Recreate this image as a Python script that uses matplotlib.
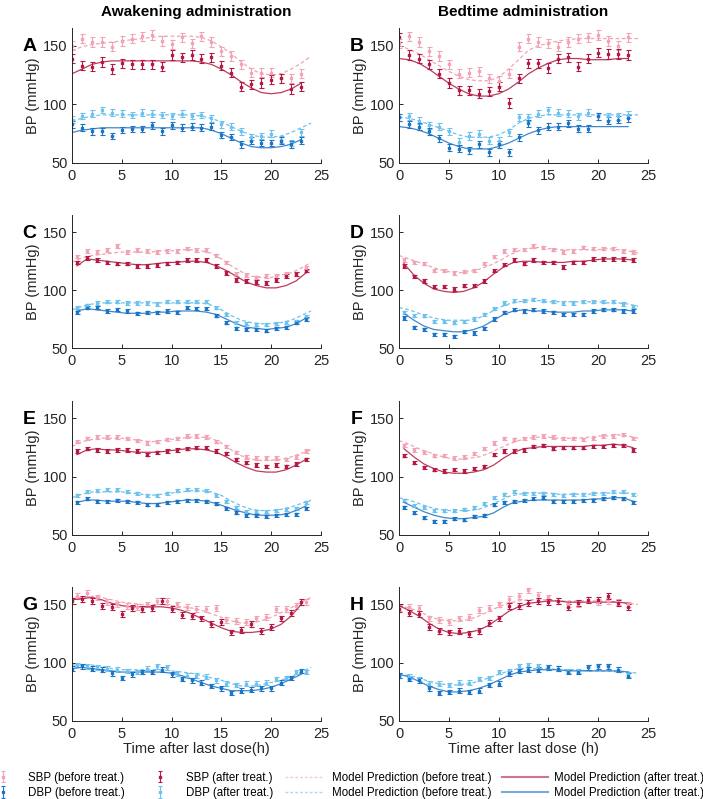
import matplotlib
matplotlib.use("Agg")
import matplotlib.pyplot as plt
from matplotlib.lines import Line2D

plt.rcParams['font.family'] = ['Liberation Sans', 'DejaVu Sans']

# colours
col_sbp_after = '#B31942'
col_sbp_before = '#F2A3B4'
col_dbp_after = '#1C74C6'
col_dbp_before = '#6DC2EE'

hours = list(range(24))
half_hours = [h + 0.5 for h in range(24)]
model_t = list(range(25))

# ---------------- panel A (awakening, hourly) ----------------
a_sbp_before = [150, 156, 153, 153, 149, 154, 156, 158, 159, 154, 151, 157, 152, 158, 153, 145, 141, 134, 127, 127, 127, 122, 122, 126]
a_sbp_after = [139, 133, 132, 136, 130, 135, 134, 134, 134, 132, 142, 140, 142, 139, 140, 133, 127, 115, 117, 118, 121, 122, 113, 115]
a_dbp_before = [87, 90, 92, 95, 93, 92, 91, 93, 92, 91, 90, 92, 90, 91, 88, 83, 81, 77, 72, 73, 75, 70, 67, 76]
a_dbp_after = [83, 80, 77, 77, 73, 78, 79, 79, 82, 77, 82, 80, 81, 80, 81, 74, 72, 66, 69, 67, 67, 69, 66, 69]
a_model_sbp_before = [146, 149, 151, 152, 153, 154, 155, 156, 157, 158, 158, 158, 158, 157, 154, 149, 143, 136, 130, 126, 125, 126, 130, 135, 141]
a_model_sbp_after = [126, 130, 134, 136, 137, 137, 137, 137, 137, 137, 137, 137, 137, 136, 134, 130, 125, 119, 114, 110, 109, 110, 113, 118]
a_model_dbp_before = [86, 88, 90, 91, 91, 91, 91, 91, 91, 91, 91, 91, 91, 90, 88, 85, 81, 77, 74, 72, 72, 73, 76, 80, 84]
a_model_dbp_after = [76, 78, 79, 80, 80, 80, 80, 80, 80, 80, 80, 80, 80, 80, 78, 75, 71, 67, 64, 63, 63, 64, 66, 70]
a_err = [4.0, 2.8]

# ---------------- panel B (bedtime, hourly) ----------------
b_sbp_before = [152, 158, 153, 145, 141, 134, 126, 127, 128, 122, 120, 126, 149, 156, 153, 152, 149, 153, 156, 157, 159, 154, 150, 157]
b_sbp_after = [157, 142, 139, 134, 126, 118, 112, 112, 109, 111, 115, 101, 122, 135, 135, 131, 139, 140, 132, 139, 144, 143, 143, 142]
b_dbp_before = [89, 90, 86, 82, 81, 77, 68, 73, 75, 69, 69, 76, 89, 89, 92, 95, 93, 92, 90, 93, 90, 90, 90, 91]
b_dbp_after = [89, 83, 81, 77, 71, 63, 62, 61, 66, 59, 66, 59, 72, 84, 78, 81, 81, 84, 79, 79, 90, 86, 87, 88]
b_model_sbp_before = [150, 147, 143, 138, 133, 128, 124, 121, 120, 120, 123, 130, 138, 146, 150, 152, 154, 155, 156, 156, 156, 156, 156, 156, 156]
b_model_sbp_after = [139, 138, 135, 130, 124, 118, 113, 109, 107, 107, 109, 113, 119, 126, 131, 135, 138, 139, 139, 138, 138, 138, 139, 139]
b_model_dbp_before = [89, 88, 86, 83, 80, 77, 74, 72, 72, 72, 74, 78, 84, 88, 90, 91, 91, 91, 91, 91, 91, 91, 91, 91, 91]
b_model_dbp_after = [81, 80, 78, 75, 71, 67, 64, 62, 62, 62, 64, 67, 71, 75, 78, 80, 81, 81, 81, 81, 81, 81, 81, 81]
b_err = [4.0, 3.0]

# ---------------- panel C (awakening, half-hourly) ----------------
c_sbp_before = [129, 134, 133, 135, 138, 133, 135, 134, 133, 134, 134, 136, 135, 135, 130, 124, 114, 113, 111, 112, 112, 114, 114, 119]
c_sbp_after = [124, 128, 126, 124, 123, 123, 121, 121, 122, 123, 124, 126, 126, 126, 121, 115, 109, 108, 107, 106, 109, 112, 114, 117]
c_dbp_before = [85, 87, 89, 90, 90, 89, 89, 89, 88, 90, 90, 90, 90, 90, 85, 79, 72, 71, 70, 70, 71, 72, 73, 77]
c_dbp_after = [81, 85, 85, 82, 83, 82, 80, 81, 81, 82, 81, 85, 84, 84, 78, 72, 67, 66, 66, 65, 67, 68, 72, 75]
c_model_sbp_before = [124, 128, 130, 131, 132, 133, 133, 133, 133, 134, 134, 135, 135, 134, 132, 127, 121, 116, 112, 111, 111, 113, 115, 119, 124]
c_model_sbp_after = [121, 127, 126, 125, 124, 123, 122, 122, 123, 124, 124, 125, 125, 124, 121, 117, 112, 107, 104, 102, 102, 104, 108, 115]
c_model_dbp_before = [83, 86, 88, 89, 89, 89, 89, 89, 89, 89, 89, 89, 89, 89, 87, 83, 78, 74, 72, 71, 71, 72, 74, 78, 82]
c_model_dbp_after = [82, 84, 83, 82, 81, 80, 80, 80, 81, 81, 82, 82, 82, 81, 79, 75, 71, 68, 67, 66, 67, 68, 71, 76]
c_err = [1.6, 1.4]

# ---------------- panel D (bedtime, half-hourly) ----------------
d_sbp_before = [126, 124, 123, 117, 117, 115, 116, 117, 123, 129, 134, 135, 135, 138, 137, 135, 133, 134, 137, 136, 136, 136, 134, 133]
d_sbp_after = [121, 112, 108, 103, 103, 101, 104, 104, 108, 117, 122, 126, 123, 126, 124, 124, 120, 124, 124, 127, 127, 127, 127, 126]
d_dbp_before = [81, 78, 78, 73, 73, 72, 73, 75, 79, 84, 89, 91, 91, 92, 91, 90, 89, 89, 90, 90, 90, 90, 88, 86]
d_dbp_after = [76, 68, 66, 62, 62, 60, 64, 63, 67, 75, 81, 83, 82, 83, 82, 81, 79, 79, 79, 82, 83, 83, 82, 82]
d_model_sbp_before = [130, 127, 124, 121, 118, 116, 115, 116, 118, 121, 125, 130, 134, 136, 137, 136, 135, 135, 135, 135, 135, 136, 135, 134, 132]
d_model_sbp_after = [123, 113, 106, 101, 99, 98, 99, 102, 107, 114, 120, 124, 125, 125, 124, 124, 124, 125, 125, 126, 127, 127, 127, 126]
d_model_dbp_before = [85, 83, 80, 77, 75, 74, 74, 74, 76, 80, 85, 88, 90, 91, 91, 90, 90, 90, 90, 90, 90, 89, 89, 88, 86]
d_model_dbp_after = [80, 74, 69, 66, 65, 64, 64, 66, 69, 74, 79, 82, 83, 82, 82, 81, 81, 81, 82, 82, 83, 83, 83, 82]
d_err = [1.5, 1.4]

# ---------------- panel E (awakening, half-hourly) ----------------
e_sbp_before = [130, 133, 134, 134, 134, 133, 131, 129, 130, 132, 133, 135, 135, 134, 130, 126, 121, 117, 116, 116, 116, 115, 117, 122]
e_sbp_after = [122, 124, 123, 122, 123, 123, 122, 119, 121, 122, 123, 124, 125, 125, 122, 120, 115, 112, 110, 109, 110, 109, 111, 115]
e_dbp_before = [84, 87, 88, 89, 89, 87, 86, 84, 84, 86, 88, 89, 89, 88, 84, 79, 74, 70, 70, 70, 71, 72, 73, 78]
e_dbp_after = [78, 81, 79, 79, 80, 79, 78, 76, 76, 78, 79, 80, 80, 79, 77, 73, 69, 67, 67, 66, 67, 68, 68, 73]
e_model_sbp_before = [126, 130, 132, 133, 133, 133, 132, 131, 130, 131, 132, 133, 134, 134, 133, 129, 123, 118, 115, 114, 114, 115, 117, 120, 123]
e_model_sbp_after = [119, 123, 124, 123, 123, 122, 121, 121, 121, 122, 123, 124, 124, 123, 121, 117, 112, 108, 105, 104, 104, 106, 110, 115]
e_model_dbp_before = [82, 85, 87, 87, 87, 87, 86, 85, 84, 85, 86, 87, 88, 88, 87, 84, 79, 75, 72, 71, 71, 72, 74, 77, 80]
e_model_dbp_after = [78, 80, 80, 79, 79, 79, 78, 77, 77, 78, 79, 80, 80, 79, 77, 74, 71, 69, 67, 67, 67, 68, 71, 75]
e_err = [1.4, 1.3]

# ---------------- panel F (bedtime, half-hourly) ----------------
f_sbp_before = [127, 123, 121, 118, 118, 116, 117, 120, 124, 129, 133, 132, 133, 134, 135, 134, 133, 133, 132, 133, 135, 135, 136, 133]
f_sbp_after = [118, 112, 108, 106, 105, 106, 105, 107, 109, 119, 122, 122, 123, 126, 127, 124, 125, 125, 125, 126, 126, 127, 127, 123]
f_dbp_before = [80, 75, 74, 71, 71, 71, 72, 74, 77, 82, 85, 87, 86, 86, 86, 85, 84, 85, 85, 86, 86, 87, 87, 85]
f_dbp_after = [74, 69, 65, 62, 62, 64, 63, 66, 67, 76, 78, 79, 80, 81, 82, 79, 79, 79, 80, 80, 81, 82, 81, 78]
f_model_sbp_before = [131, 128, 124, 121, 118, 116, 115, 116, 117, 120, 124, 128, 131, 133, 134, 134, 133, 133, 133, 134, 135, 135, 136, 135, 133]
f_model_sbp_after = [124, 117, 111, 107, 104, 103, 103, 104, 106, 110, 116, 121, 124, 125, 126, 126, 126, 126, 126, 127, 127, 128, 127, 125]
f_model_dbp_before = [82, 80, 77, 74, 72, 71, 71, 71, 72, 75, 79, 83, 85, 86, 86, 86, 85, 85, 85, 85, 86, 86, 86, 86, 84]
f_model_dbp_after = [78, 74, 70, 67, 65, 64, 64, 65, 66, 69, 74, 78, 79, 80, 80, 80, 80, 80, 80, 81, 81, 82, 82, 79]
f_err = [1.4, 1.3]

# ---------------- panel G (awakening) ----------------
g_sbp_before = [157, 160, 156, 152, 150, 149, 148, 150, 153, 153, 150, 148, 146, 146, 147, 137, 136, 135, 138, 139, 146, 146, 149, 152]
g_sbp_after = [153, 155, 153, 149, 148, 142, 147, 146, 147, 153, 146, 141, 140, 138, 133, 135, 126, 128, 133, 127, 131, 138, 143, 152]
g_dbp_before = [98, 97, 96, 95, 94, 93, 92, 95, 97, 96, 91, 89, 89, 88, 85, 82, 81, 82, 82, 83, 86, 87, 92, 92]
g_dbp_after = [95, 97, 95, 94, 91, 87, 90, 92, 92, 94, 90, 86, 85, 83, 80, 78, 74, 76, 77, 78, 78, 83, 87, 93]
g_model_sbp_before = [155, 156, 157, 156, 154, 152, 151, 150, 150, 150, 149, 148, 147, 145, 142, 139, 136, 134, 134, 136, 139, 143, 147, 152, 156]
g_model_sbp_after = [154, 155, 156, 154, 151, 149, 148, 148, 148, 148, 147, 145, 142, 138, 134, 130, 127, 126, 126, 127, 129, 133, 140, 150]
g_model_dbp_before = [98, 98, 98, 97, 95, 94, 94, 94, 94, 94, 93, 92, 91, 89, 87, 85, 82, 80, 80, 81, 83, 85, 88, 92, 96]
g_model_dbp_after = [95, 96, 95, 94, 93, 92, 92, 92, 92, 92, 91, 89, 86, 83, 80, 78, 76, 76, 76, 77, 79, 82, 86, 90]
g_err = [2.5, 2.0]

# ---------------- panel H (bedtime, hourly) ----------------
h_sbp_before = [147, 148, 147, 138, 137, 135, 138, 139, 145, 147, 150, 155, 157, 162, 158, 156, 153, 150, 150, 154, 152, 153, 152, 150]
h_sbp_after = [146, 143, 142, 131, 127, 126, 127, 125, 127, 134, 138, 149, 149, 151, 153, 152, 153, 148, 151, 154, 154, 157, 151, 148]
h_dbp_before = [89, 88, 86, 82, 82, 81, 83, 83, 86, 87, 92, 93, 97, 98, 97, 96, 95, 93, 93, 96, 97, 97, 94, 90]
h_dbp_after = [89, 86, 85, 78, 74, 75, 76, 75, 76, 81, 82, 91, 93, 94, 94, 96, 95, 92, 92, 96, 97, 97, 94, 89]
h_model_sbp_before = [149, 147, 144, 140, 137, 136, 136, 137, 140, 144, 148, 151, 153, 154, 154, 154, 153, 153, 153, 153, 153, 153, 152, 151, 150]
h_model_sbp_after = [149, 145, 140, 134, 129, 126, 125, 126, 128, 132, 138, 144, 148, 151, 152, 153, 153, 152, 152, 152, 152, 152, 152, 151]
h_model_dbp_before = [90, 89, 87, 84, 82, 81, 81, 82, 84, 87, 90, 93, 95, 95, 95, 95, 94, 94, 94, 93, 93, 93, 92, 92, 91]
h_model_dbp_after = [90, 88, 84, 80, 77, 75, 75, 76, 78, 81, 85, 89, 92, 93, 94, 94, 94, 93, 93, 93, 93, 93, 93, 92]
h_err = [2.5, 2.0]

letters = ['A', 'B', 'C', 'D', 'E', 'F', 'G', 'H']
# (before times, after times, model-after times, data...)
panels = [
    (hours, hours, hours, a_sbp_before, a_sbp_after, a_dbp_before, a_dbp_after,
     a_model_sbp_before, a_model_sbp_after, a_model_dbp_before, a_model_dbp_after, a_err),
    (hours, hours, hours, b_sbp_before, b_sbp_after, b_dbp_before, b_dbp_after,
     b_model_sbp_before, b_model_sbp_after, b_model_dbp_before, b_model_dbp_after, b_err),
    (half_hours, half_hours, half_hours, c_sbp_before, c_sbp_after, c_dbp_before, c_dbp_after,
     c_model_sbp_before, c_model_sbp_after, c_model_dbp_before, c_model_dbp_after, c_err),
    (half_hours, half_hours, half_hours, d_sbp_before, d_sbp_after, d_dbp_before, d_dbp_after,
     d_model_sbp_before, d_model_sbp_after, d_model_dbp_before, d_model_dbp_after, d_err),
    (half_hours, half_hours, half_hours, e_sbp_before, e_sbp_after, e_dbp_before, e_dbp_after,
     e_model_sbp_before, e_model_sbp_after, e_model_dbp_before, e_model_dbp_after, e_err),
    (half_hours, half_hours, half_hours, f_sbp_before, f_sbp_after, f_dbp_before, f_dbp_after,
     f_model_sbp_before, f_model_sbp_after, f_model_dbp_before, f_model_dbp_after, f_err),
    (half_hours, hours, hours, g_sbp_before, g_sbp_after, g_dbp_before, g_dbp_after,
     g_model_sbp_before, g_model_sbp_after, g_model_dbp_before, g_model_dbp_after, g_err),
    (hours, hours, hours, h_sbp_before, h_sbp_after, h_dbp_before, h_dbp_after,
     h_model_sbp_before, h_model_sbp_after, h_model_dbp_before, h_model_dbp_after, h_err),
]

fig = plt.figure(figsize=(7.03, 7.99), dpi=100)

lefts = [72 / 703, 399 / 703]
width = 249 / 703
tops = [28, 215, 401, 587]
heights = [135, 133, 134, 134]

tick_color = '#262626'
eb_kw = dict(fmt='s', markersize=1.5, capsize=1.8, elinewidth=0.8, capthick=0.8)

for i, p in enumerate(panels):
    (t_before, t_after, t_model_after, sb, sa, db, da, msb, msa, mdb, mda, err) = p
    row, col = divmod(i, 2)
    ax = fig.add_axes([lefts[col], 1 - (tops[row] + heights[row]) / 799, width, heights[row] / 799])

    ax.plot(model_t, msb, color=col_sbp_before, lw=0.9, ls=(0, (3, 2)))
    ax.plot(model_t, mdb, color=col_dbp_before, lw=0.9, ls=(0, (3, 2)))
    ax.errorbar(t_before, sb, yerr=err[0], color=col_sbp_before, ecolor=col_sbp_before, **eb_kw)
    ax.errorbar(t_before, db, yerr=err[1], color=col_dbp_before, ecolor=col_dbp_before, **eb_kw)
    ax.plot(t_model_after, msa, color=col_sbp_after, lw=0.9, alpha=0.85)
    ax.plot(t_model_after, mda, color=col_dbp_after, lw=0.9, alpha=0.85)
    ax.errorbar(t_after, sa, yerr=err[0], color=col_sbp_after, ecolor=col_sbp_after, **eb_kw)
    ax.errorbar(t_after, da, yerr=err[1], color=col_dbp_after, ecolor=col_dbp_after, **eb_kw)

    ax.set_xlim(0, 25)
    ax.set_ylim(50, 165)
    ax.set_xticks([0, 5, 10, 15, 20, 25])
    ax.set_yticks([50, 100, 150])
    ax.spines['top'].set_visible(False)
    ax.spines['right'].set_visible(False)
    for s in ['left', 'bottom']:
        ax.spines[s].set_color('#262626')
        ax.spines[s].set_linewidth(0.7)
    ax.tick_params(direction='in', length=3, width=0.7, labelsize=10.5,
                   colors=tick_color)
    ax.tick_params(axis='x', pad=4)
    ax.tick_params(axis='y', pad=3)
    ax.set_ylabel('BP (mmHg)', fontsize=10.5, color=tick_color)
    ax.yaxis.set_label_coords(-0.128, 0.5)
    ax.text(-0.17, 0.86, letters[i], transform=ax.transAxes, fontsize=14,
            fontweight='bold', ha='center', va='center')

    if i == 6:
        ax.set_xlabel('Time after last dose(h)', fontsize=10.5, color=tick_color, labelpad=1)
    if i == 7:
        ax.set_xlabel('Time after last dose (h)', fontsize=10.5, color=tick_color, labelpad=1)

fig.text(lefts[0] + width / 2, 1 - 12 / 799, 'Awakening administration', fontsize=11,
         fontweight='bold', ha='center', va='center')
fig.text(lefts[1] + width / 2, 1 - 12 / 799, 'Bedtime administration', fontsize=11,
         fontweight='bold', ha='center', va='center')

# legend: four single-column legends, errorbar handles made on a hidden axes
dummy = fig.add_axes([0, 0, 0.01, 0.01])
dummy.set_visible(False)
leg_eb = dict(fmt='s', markersize=1.5, capsize=1.5, elinewidth=0.8, capthick=0.8)
h_sb = dummy.errorbar([0], [0], yerr=1, color=col_sbp_before, **leg_eb)
h_db = dummy.errorbar([0], [0], yerr=1, color=col_dbp_after, **leg_eb)
h_sa = dummy.errorbar([0], [0], yerr=1, color=col_sbp_after, **leg_eb)
h_da = dummy.errorbar([0], [0], yerr=1, color=col_dbp_before, **leg_eb)
h_mb_s = Line2D([0], [0], color=col_sbp_before, lw=1.0, ls=(0, (2, 1.5)), alpha=0.6)
h_mb_d = Line2D([0], [0], color=col_dbp_before, lw=1.0, ls=(0, (2, 1.5)), alpha=0.6)
h_ma_s = Line2D([0], [0], color=col_sbp_after, lw=1.5, alpha=0.6)
h_ma_d = Line2D([0], [0], color=col_dbp_after, lw=1.5, alpha=0.6)

leg_cols = [
    ([h_sb, h_db], ['SBP (before treat.)', 'DBP (before treat.)'], -3.5, 1.2, 1.57),
    ([h_sa, h_da], ['SBP (after treat.)', 'DBP (after treat.)'], 153, 1.2, 1.7),
    ([h_mb_s, h_mb_d], ['Model Prediction (before treat.)'] * 2, 285, 3.2, 0.9),
    ([h_ma_s, h_ma_d], ['Model Prediction (after treat.)'] * 2, 502, 4.0, 0.5),
]
for hnd, lab, x0, hl, tp in leg_cols:
    fig.legend(hnd, lab, loc='lower left', bbox_to_anchor=(x0 / 703, 0.0),
               frameon=False, borderpad=0, borderaxespad=0, handlelength=hl,
               handletextpad=tp, labelspacing=0.3,
               prop={'family': ['Liberation Sans'], 'size': 8.3})

fig.savefig('out.png', dpi=100)
